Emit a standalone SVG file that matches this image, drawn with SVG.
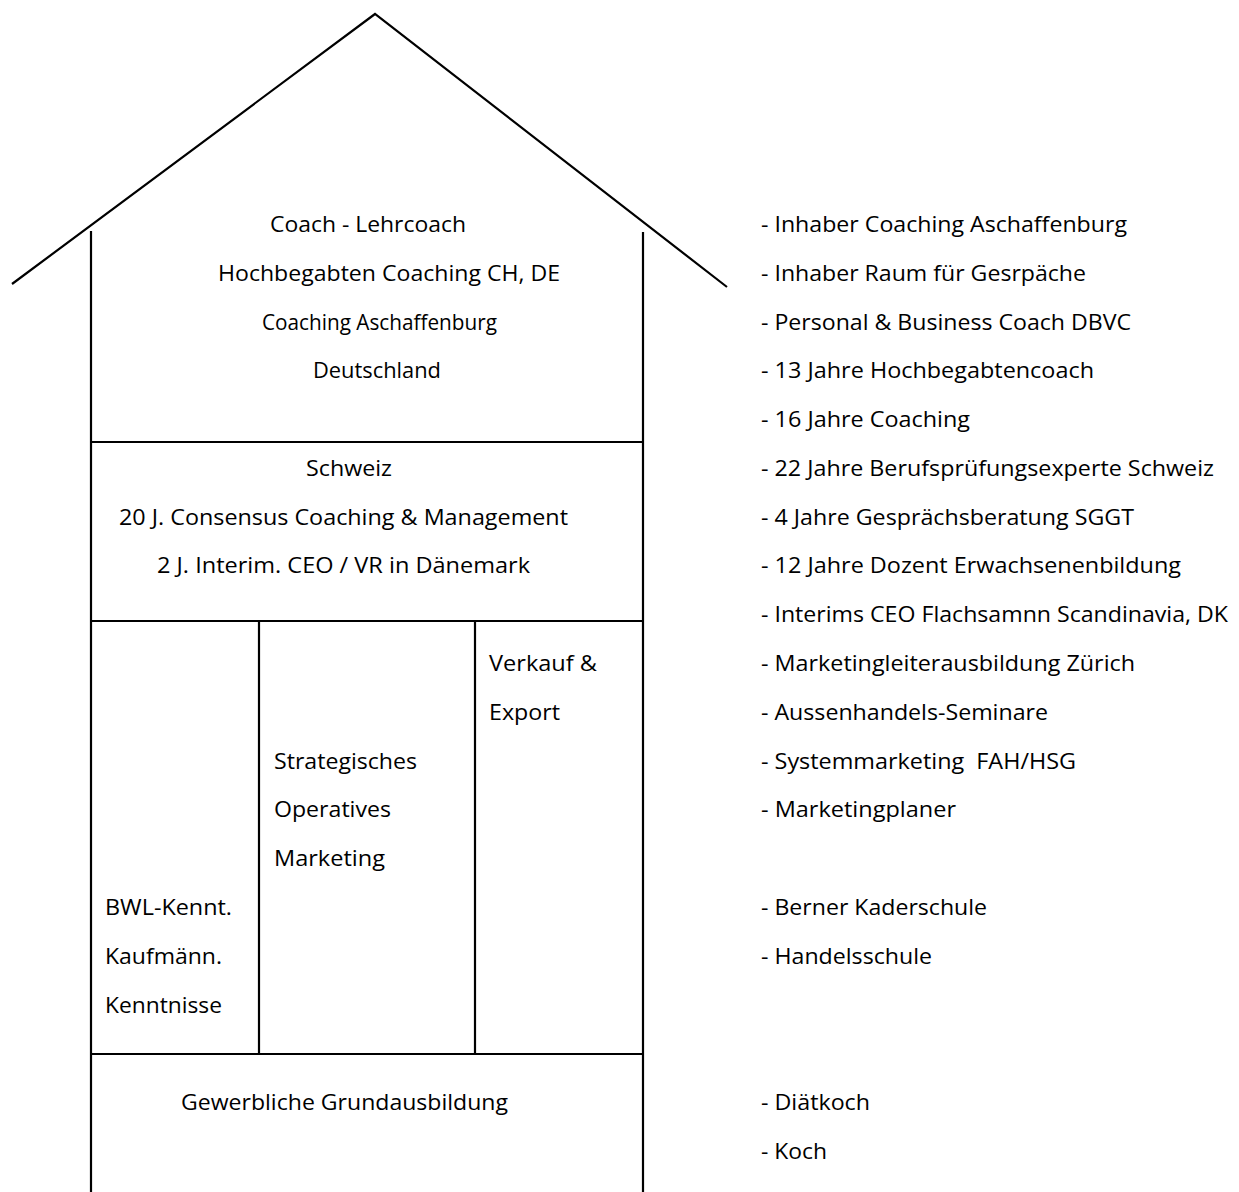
<svg xmlns="http://www.w3.org/2000/svg" width="1239" height="1192" viewBox="0 0 1239 1192">
<style>
.ln{stroke:#000;stroke-width:2.2;fill:none;stroke-linecap:butt}
text{font-family:"Open Sans","Noto Sans","Liberation Sans",sans-serif;font-size:21px;fill:#000}
</style>
<rect width="1239" height="1192" fill="#fff"/>
<g id="connectors">
<polyline class="ln" points="12,284 375,14 727,287"/>
<line class="ln" x1="91" y1="231" x2="91" y2="1192"/>
<line class="ln" x1="643" y1="232" x2="643" y2="1192"/>
<line class="ln" x1="91" y1="442" x2="643" y2="442"/>
<line class="ln" x1="91" y1="621" x2="643" y2="621"/>
<line class="ln" x1="91" y1="1054" x2="643" y2="1054"/>
<line class="ln" x1="259" y1="621" x2="259" y2="1054"/>
<line class="ln" x1="475" y1="621" x2="475" y2="1054"/>
</g>
<g id="roof-section">
<text x="270" y="232" textLength="196" lengthAdjust="spacingAndGlyphs">Coach - Lehrcoach</text>
<text x="218" y="281" textLength="342" lengthAdjust="spacingAndGlyphs">Hochbegabten Coaching CH, DE</text>
<text x="262" y="330" textLength="235" lengthAdjust="spacingAndGlyphs">Coaching Aschaffenburg</text>
<text x="313" y="378" textLength="128" lengthAdjust="spacingAndGlyphs">Deutschland</text>
</g>
<g id="schweiz-section">
<text x="306" y="476" textLength="86" lengthAdjust="spacingAndGlyphs">Schweiz</text>
<text x="119" y="525" textLength="449" lengthAdjust="spacingAndGlyphs">20 J. Consensus Coaching &amp; Management</text>
<text x="157" y="573" textLength="373" lengthAdjust="spacingAndGlyphs">2 J. Interim. CEO / VR in Dänemark</text>
</g>
<g id="bwl-pillar">
<text x="105" y="915" textLength="127" lengthAdjust="spacingAndGlyphs">BWL-Kennt.</text>
<text x="105" y="964" textLength="117" lengthAdjust="spacingAndGlyphs">Kaufmänn.</text>
<text x="105" y="1013" textLength="117" lengthAdjust="spacingAndGlyphs">Kenntnisse</text>
</g>
<g id="marketing-pillar">
<text x="274" y="769" textLength="143" lengthAdjust="spacingAndGlyphs">Strategisches</text>
<text x="274" y="817" textLength="117" lengthAdjust="spacingAndGlyphs">Operatives</text>
<text x="274" y="866" textLength="111" lengthAdjust="spacingAndGlyphs">Marketing</text>
</g>
<g id="verkauf-pillar">
<text x="489" y="671" textLength="108" lengthAdjust="spacingAndGlyphs">Verkauf &amp;</text>
<text x="489" y="720" textLength="71" lengthAdjust="spacingAndGlyphs">Export</text>
</g>
<g id="foundation">
<text x="181" y="1110" textLength="327" lengthAdjust="spacingAndGlyphs">Gewerbliche Grundausbildung</text>
</g>
<g id="list">
<text x="761" y="232" textLength="366" lengthAdjust="spacingAndGlyphs">- Inhaber Coaching Aschaffenburg</text>
<text x="761" y="281" textLength="325" lengthAdjust="spacingAndGlyphs">- Inhaber Raum für Gesrpäche</text>
<text x="761" y="330" textLength="370" lengthAdjust="spacingAndGlyphs">- Personal &amp; Business Coach DBVC</text>
<text x="761" y="378" textLength="333" lengthAdjust="spacingAndGlyphs">- 13 Jahre Hochbegabtencoach</text>
<text x="761" y="427" textLength="209" lengthAdjust="spacingAndGlyphs">- 16 Jahre Coaching</text>
<text x="761" y="476" textLength="453" lengthAdjust="spacingAndGlyphs">- 22 Jahre Berufsprüfungsexperte Schweiz</text>
<text x="761" y="525" textLength="373" lengthAdjust="spacingAndGlyphs">- 4 Jahre Gesprächsberatung SGGT</text>
<text x="761" y="573" textLength="420" lengthAdjust="spacingAndGlyphs">- 12 Jahre Dozent Erwachsenenbildung</text>
<text x="761" y="622" textLength="467" lengthAdjust="spacingAndGlyphs">- Interims CEO Flachsamnn Scandinavia, DK</text>
<text x="761" y="671" textLength="374" lengthAdjust="spacingAndGlyphs">- Marketingleiterausbildung Zürich</text>
<text x="761" y="720" textLength="287" lengthAdjust="spacingAndGlyphs">- Aussenhandels-Seminare</text>
<text x="761" y="769" textLength="315" lengthAdjust="spacingAndGlyphs" xml:space="preserve">- Systemmarketing  FAH/HSG</text>
<text x="761" y="817" textLength="195" lengthAdjust="spacingAndGlyphs">- Marketingplaner</text>
<text x="761" y="915" textLength="226" lengthAdjust="spacingAndGlyphs">- Berner Kaderschule</text>
<text x="761" y="964" textLength="171" lengthAdjust="spacingAndGlyphs">- Handelsschule</text>
<text x="761" y="1110" textLength="109" lengthAdjust="spacingAndGlyphs">- Diätkoch</text>
<text x="761" y="1159" textLength="66" lengthAdjust="spacingAndGlyphs">- Koch</text>
</g>
</svg>
